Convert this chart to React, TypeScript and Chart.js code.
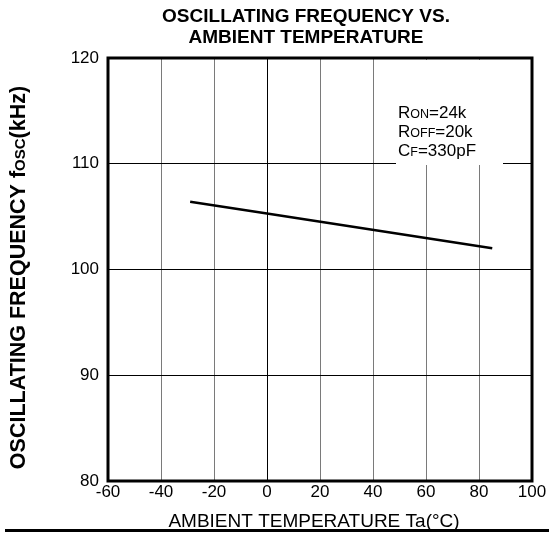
import React, { useEffect, useRef } from "react";
import { Chart, registerables } from "chart.js";

Chart.register(...registerables);

// ---- data ----
const temperatures = [-29, 0, 85];
const frequencies = [106.4, 105.3, 102.0];

const xMin = -60;
const xMax = 100;
const xStep = 20;
const yMin = 80;
const yMax = 120;
const yStep = 10;

const titleLines = ["OSCILLATING FREQUENCY VS.", "AMBIENT TEMPERATURE"];
const xAxisTitle = "AMBIENT TEMPERATURE Ta(°C)";
// [text, isSmall]
const yTitleParts: [string, boolean][] = [
  ["OSCILLATING FREQUENCY f", false],
  ["OSC", true],
  ["(kHz)", false],
];
const legendLines: [string, boolean][][] = [
  [["R", false], ["ON", true], ["=24k", false]],
  [["R", false], ["OFF", true], ["=20k", false]],
  [["C", false], ["F", true], ["=330pF", false]],
];

const FONT = "'Liberation Sans', Arial, Helvetica, sans-serif";

function drawParts(
  ctx: CanvasRenderingContext2D,
  parts: [string, boolean][],
  x: number,
  y: number,
  bigFont: string,
  smallFont: string,
  align: "left" | "center"
) {
  let total = 0;
  const widths = parts.map(([t, s]) => {
    ctx.font = s ? smallFont : bigFont;
    const w = ctx.measureText(t).width;
    total += w;
    return w;
  });
  let cx = align === "center" ? x - total / 2 : x;
  ctx.textAlign = "left";
  ctx.textBaseline = "alphabetic";
  parts.forEach(([t, s], i) => {
    ctx.font = s ? smallFont : bigFont;
    ctx.fillText(t, cx, y);
    cx += widths[i];
  });
}

const decorPlugin = {
  id: "decor",
  afterDraw(chart: any) {
    const ctx: CanvasRenderingContext2D = chart.ctx;
    const a = chart.chartArea;
    ctx.save();
    ctx.fillStyle = "#000";

    // title
    ctx.font = `bold 19px ${FONT}`;
    ctx.textAlign = "center";
    ctx.textBaseline = "alphabetic";
    const tcx = (a.left + a.right) / 2 - 14;
    ctx.fillText(titleLines[0], tcx, 22);
    ctx.fillText(titleLines[1], tcx, 43);

    // x axis title
    ctx.font = `19px ${FONT}`;
    ctx.fillText(xAxisTitle, (a.left + a.right) / 2 - 6, a.bottom + 46);

    // y axis title
    ctx.save();
    ctx.translate(25, (a.top + a.bottom) / 2 + 8);
    ctx.rotate(-Math.PI / 2);
    drawParts(ctx, yTitleParts, 0, 0, `bold 21.5px ${FONT}`, `bold 15px ${FONT}`, "center");
    ctx.restore();

    // legend box
    const lx = a.left + 290;
    ctx.fillStyle = "#fff";
    ctx.fillRect(lx - 2, a.top + 2, 107, 105);
    ctx.fillStyle = "#000";
    legendLines.forEach((line, i) => {
      drawParts(ctx, line, lx, a.top + 60 + i * 19, `17px ${FONT}`, `12.5px ${FONT}`, "left");
    });

    // frame
    ctx.strokeStyle = "#000";
    ctx.lineWidth = 3;
    ctx.strokeRect(a.left, a.top, a.right - a.left, a.bottom - a.top);

    // bottom rule
    ctx.fillRect(5, 529, chart.width - 5, 3);
    ctx.restore();
  },
};

export default function App() {
  const ref = useRef<HTMLCanvasElement | null>(null);
  useEffect(() => {
    if (!ref.current) return;
    const chart = new Chart(ref.current, {
      type: "line",
      data: {
        datasets: [
          {
            data: temperatures.map((t, i) => ({ x: t, y: frequencies[i] })),
            borderColor: "#000",
            borderWidth: 2.5,
            pointRadius: 0,
            tension: 0,
            fill: false,
          },
        ],
      },
      options: {
        responsive: false,
        animation: false,
        layout: { padding: { top: 58, right: 17, left: 0, bottom: 0 } },
        plugins: { legend: { display: false }, tooltip: { enabled: false }, title: { display: false } },
        scales: {
          x: {
            type: "linear",
            min: xMin,
            max: xMax,
            afterFit: (s: any) => {
              s.height = 52;
            },
            ticks: {
              stepSize: xStep,
              color: "#000",
              font: { family: FONT, size: 17 },
              padding: 1,
              maxRotation: 0,
            },
            grid: {
              drawTicks: false,
              color: (c: any) => (c.tick && c.tick.value === 0 ? "#000" : "#7a7a7a"),
              lineWidth: 1,
            },
            border: { display: false },
          },
          y: {
            type: "linear",
            min: yMin,
            max: yMax,
            afterFit: (s: any) => {
              s.width = 108;
            },
            ticks: {
              stepSize: yStep,
              color: "#000",
              font: { family: FONT, size: 17 },
              padding: 9,
            },
            grid: { drawTicks: false, color: "#000", lineWidth: 1 },
            border: { display: false },
          },
        },
      },
      plugins: [decorPlugin],
    });
    return () => chart.destroy();
  }, []);
  return (
    <div style={{ position: "fixed", left: 0, top: 0, width: 549, height: 533, background: "#fff" }}>
      <canvas ref={ref} width={549} height={533} style={{ display: "block" }} />
    </div>
  );
}
